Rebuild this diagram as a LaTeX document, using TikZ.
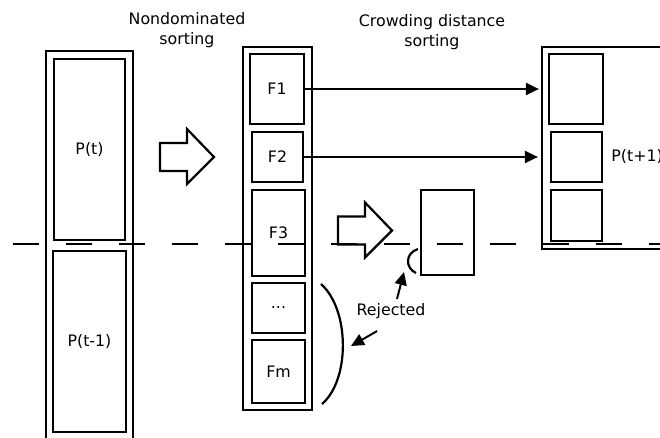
\documentclass[tikz,border=0pt]{standalone}
\usepackage{fontspec}
\setmainfont{DejaVu Sans}
\usetikzlibrary{arrows.meta}

\begin{document}
\begin{tikzpicture}[
    x=1pt, y=-1pt,
    line width=2.2pt,
    font=\fontsize{15.8}{20.5}\selectfont,
    % Population frame: holds a set of fronts
    popframe/.style={
        rectangle,
        draw=black,
        inner sep=0pt,
        },
    % One front (or one slot of the next population)
    front/.style={
        rectangle,
        draw=black,
        inner sep=0pt,
        minimum width=53pt,
        },
    link/.style={-{Triangle[length=13pt,width=12pt]}},
    cut/.style={dash pattern=on 26pt off 27pt},
    hollowarrow/.pic={
        \draw (0,-14) -- (27,-14) -- (27,-28) -- (54,0) -- (27,27)
            -- (27,14) -- (0,14) -- cycle;
        },
    ]
    \useasboundingbox (0,0) rectangle (660,437);

    % combined population
    \node [popframe, minimum width=87pt, minimum height=394pt] (Pall) at (89.5,248) {};
    \node [front, minimum width=71pt, minimum height=181pt] (Pt) at (89.5,149.5) {P(t)};
    \node [front, minimum width=73pt, minimum height=181pt] (Ptm) at (89.5,341.5) {P(t-1)};

    % fronts after nondominated sorting
    \node [popframe, minimum width=69pt, minimum height=363pt] (Fall) at (277.5,228.5) {};
    \node [front, minimum width=54pt, minimum height=70pt] (F1) at (277,89) {F1};
    \node [front, minimum width=51pt, minimum height=50pt] (F2) at (277.5,157) {F2};
    \node [front, minimum height=86pt] (F3) at (278.5,233) {F3};
    \node [front, minimum height=50pt] (Fdots) at (278.5,308) {...};
    \node [front, minimum height=63pt] (Fm) at (278.5,371.5) {Fm};

    % next population
    \node [popframe, minimum width=158pt, minimum height=202pt] (Rall) at (621,148) {};
    \node [front, minimum width=54pt, minimum height=70pt] (R1) at (576,89) {};
    \node [front, minimum width=51pt, minimum height=50pt] (R2) at (576.5,157) {};
    \node [front, minimum width=51pt, minimum height=51pt] (R3) at (576.5,215.5) {};
    \node [anchor=west] (Pnext) at (607,157) {P(t+1)};

    % part of F3 that is cut away
    \node [front, minimum height=85pt] (Rej) at (447.5,232.5) {};

    \node [align=center] (ndsort) at (187,30) {Nondominated\\sorting};
    \node [align=center] (cdsort) at (432,32) {Crowding distance\\sorting};

    \pic at (160,157) {hollowarrow};
    \pic at (338,230.5) {hollowarrow};

    \draw [link, shorten >=2pt] (F1.east) -- (F1.east -| Rall.west);
    \draw [link, shorten >=3pt] (F2.east) -- (F2.east -| Rall.west);

    % cut line
    \coordinate (cutL) at (12.7,244);
    \coordinate (cutR) at (660,244);
    \draw [cut] (cutL) -- (cutR);

    % rejected parts
    \coordinate (smallA) at (418,249);
    \coordinate (smallB) at (416,273);
    \draw (smallA) .. controls (405,253) and (405,268) .. (smallB);
    \coordinate (bigA) at (321,284);
    \coordinate (bigB) at (322,404);
    \draw (bigA) .. controls (350,310) and (350,380) .. (bigB);

    \node (rejected) at (391,311) {Rejected};
    \coordinate (tipsmall) at (404,272);
    \coordinate (tipbig) at (351,346);
    \draw [link, line width=2pt] ([xshift=6pt]rejected.north) -- (tipsmall);
    \draw [link, line width=2pt, shorten <=16pt] (rejected.south) -- (tipbig);
\end{tikzpicture}
\end{document}
